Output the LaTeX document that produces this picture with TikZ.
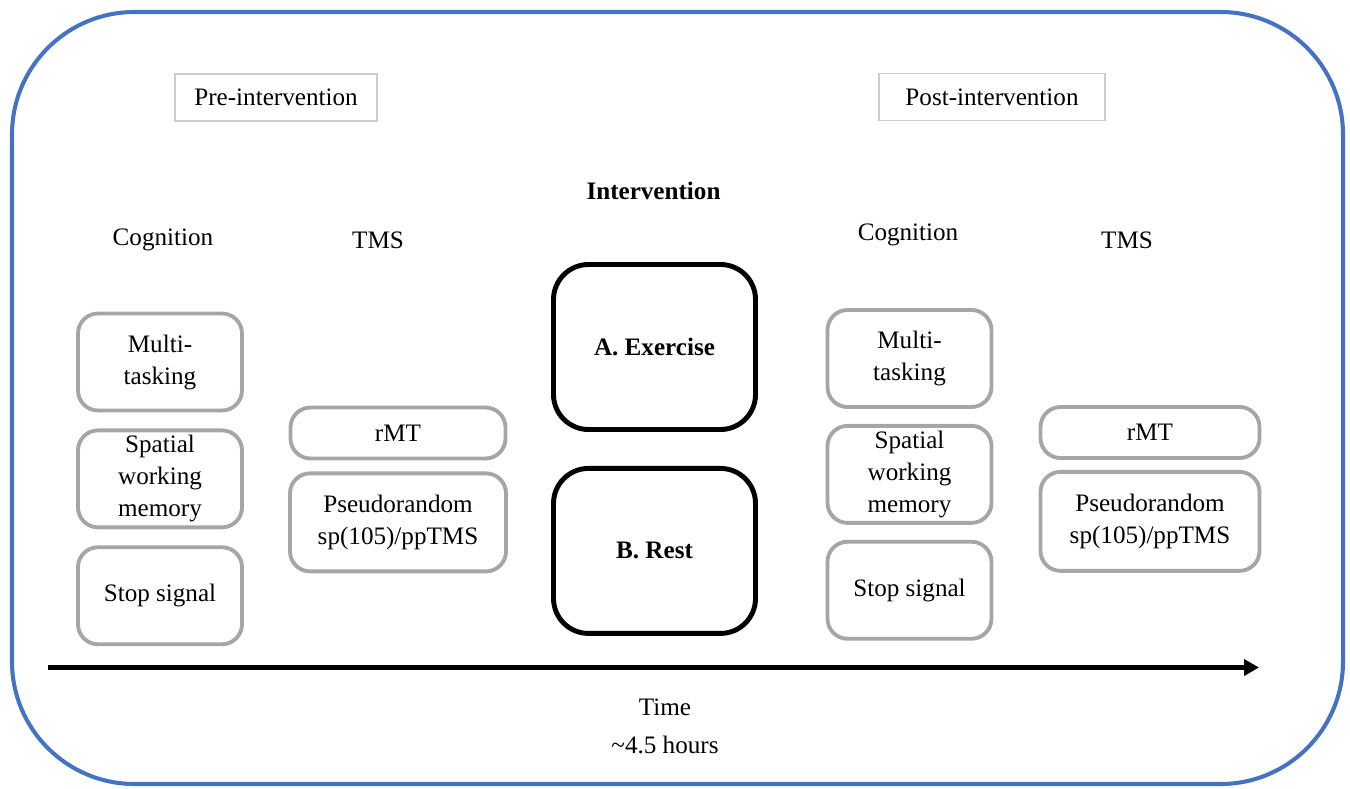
\documentclass[tikz,border=0pt]{standalone}
\usepackage{fontspec}
\setmainfont{Liberation Serif}
\usetikzlibrary{positioning,arrows.meta}
\definecolor{frameblue}{RGB}{68,114,196}
\definecolor{boxgray}{RGB}{166,166,166}
\definecolor{labelgray}{RGB}{204,204,204}
\tikzset{
  lab/.style={font=\fontsize{14.3}{18.2}\selectfont,align=center,inner sep=1pt},
  task/.style={lab,draw=boxgray,line width=2.2pt,rounded corners=4mm,fill=white},
  cogbox/.style={task,minimum width=3.28cm,minimum height=1.94cm,inner sep=0pt},
  tmsbox/.style={task,minimum width=4.3cm,minimum height=1.02cm},
  armbox/.style={lab,draw=black,line width=2.8pt,rounded corners=7mm,
    minimum width=4.04cm,minimum height=3.3cm,font=\fontsize{14.3}{18.2}\selectfont\bfseries},
  phase/.style={lab,draw=labelgray,line width=1pt,minimum height=0.94cm},
}
\begin{document}
\begin{tikzpicture}[node distance=0.32cm]
  \useasboundingbox (0,0) rectangle (27,-15.76);
  \draw[frameblue,line width=2.3pt,rounded corners=2.45cm] (0.24,-0.24) rectangle (26.86,-15.68);

  \node[phase,minimum width=4.04cm] (pre) at (5.52,-1.95) {Pre-intervention};
  \node[phase,minimum width=4.52cm] (post) at (19.84,-1.94) {Post-intervention};
  \node[lab,font=\fontsize{14.3}{18.2}\selectfont\bfseries] (interv) at (13.07,-3.82) {Intervention};

  % pre-intervention
  \node[lab] (cogL) at (3.26,-4.8) {Cognition};
  \node[lab] (tmsL) at (7.56,-4.8) {TMS};
  \node[cogbox] (multiL) at (3.2,-7.24) {Multi-\\tasking};
  \node[cogbox] (spatialL) [below=of multiL] {Spatial\\working\\memory};
  \node[cogbox] (stopL) [below=of spatialL] {Stop signal};
  \node[tmsbox] (rmtL) at (7.96,-8.66) {rMT};
  \node[tmsbox,minimum width=4.32cm,minimum height=1.96cm] (pseudoL) [below=0.22cm of rmtL] {Pseudorandom\\sp(105)/ppTMS};

  % intervention
  \node[armbox] (exercise) at (13.09,-6.94) {A. Exercise};
  \node[armbox] (rest) [below=0.68cm of exercise] {B. Rest};

  % post-intervention
  \node[lab] (cogR) at (18.16,-4.7) {Cognition};
  \node[lab] (tmsR) at (22.54,-4.8) {TMS};
  \node[cogbox] (multiR) at (18.19,-7.17) {Multi-\\tasking};
  \node[cogbox] (spatialR) [below=0.3cm of multiR] {Spatial\\working\\memory};
  \node[cogbox] (stopR) [below=0.3cm of spatialR] {Stop signal};
  \node[tmsbox,minimum width=4.38cm] (rmtR) at (23.0,-8.65) {rMT};
  \node[tmsbox,minimum width=4.38cm,minimum height=1.98cm] (pseudoR) [below=0.2cm of rmtR] {Pseudorandom\\sp(105)/ppTMS};

  % time axis
  \coordinate (tstart) at (0.96,-13.35);
  \coordinate (tend) at (25.18,-13.35);
  \draw[line width=2.8pt,-{Triangle[length=3mm,width=3.2mm]}] (tstart) -- (tend);
  \node[lab] (time) at (13.3,-14.14) {Time};
  \node[lab] (hours) at (13.3,-14.9) {\textasciitilde4.5 hours};
\end{tikzpicture}
\end{document}
